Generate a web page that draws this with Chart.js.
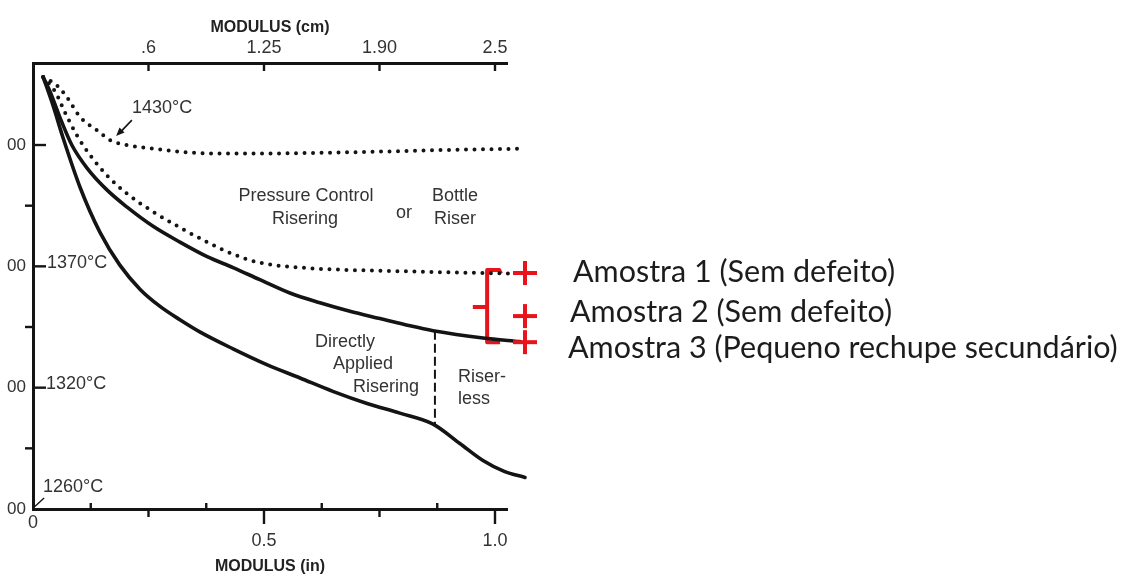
<!DOCTYPE html>
<html>
<head>
<meta charset="utf-8">
<script src="https://cdn.jsdelivr.net/npm/chart.js@4/dist/chart.umd.min.js"></script>
<style>
  html, body { margin: 0; padding: 0; background: #fff; }
  canvas { display: block; }
</style>
</head>
<body>
<canvas id="c" width="1131" height="577"></canvas>
<script>
// ---------- axis ticks ----------
const xTickValues = [0, 0.5, 1.0];
const xTickLabels = ["0", "0.5", "1.0"];
const xInnerTicks = [0.125, 0.375, 0.625, 0.875];
const xOuterTicks = [0.25, 0.75];
const topTickValues = [0.25, 0.5, 0.75, 1.0];
const topTickLabels = [".6", "1.25", "1.90", "2.5"];
const yTickValues = [2300, 2400, 2500, 2600];
const yTickLabels = ["00", "00", "00", "00"];
const yMinorTicks = [2350, 2450, 2550];
const xTitle = "MODULUS (in)";
const topTitle = "MODULUS (cm)";
const tempLabels = ["1430°C", "1370°C", "1320°C", "1260°C"];
const regionLabels = ["Pressure Control", "Risering", "or", "Bottle", "Riser",
                      "Directly", "Applied", "Risering", "Riser-", "less"];

// ---------- curves (x: modulus in, y: temperature °F) ----------
const curve1430X = [0.022, 0.052, 0.074, 0.102, 0.139, 0.167, 0.203, 0.26, 0.333, 0.405, 0.476, 0.686, 0.903, 1.061];
const curve1430Y = [2656, 2649, 2639, 2623, 2612, 2604, 2600, 2597, 2594, 2593, 2593, 2594, 2596, 2597];

const curve1370X = [0.022, 0.048, 0.069, 0.095, 0.123, 0.160, 0.203, 0.260, 0.318, 0.377, 0.433, 0.491, 0.578, 0.794, 1.039];
const curve1370Y = [2656, 2644, 2627, 2608, 2592, 2575, 2560, 2545, 2532, 2520, 2510, 2503, 2499, 2496, 2494];

const pressureX = [0.022, 0.037, 0.058, 0.084, 0.117, 0.160, 0.203, 0.260, 0.318, 0.377, 0.433, 0.491, 0.556, 0.621, 0.686, 0.751, 0.816, 0.866, 0.974, 1.054];
const pressureY = [2656, 2644, 2623, 2600, 2581, 2563, 2549, 2533, 2520, 2508, 2499, 2489, 2478, 2470, 2463, 2457, 2451, 2447, 2441, 2438];

const directX = [0.022, 0.043, 0.065, 0.102, 0.145, 0.188, 0.232, 0.275, 0.318, 0.361, 0.433, 0.506, 0.578, 0.649, 0.723, 0.794, 0.866, 0.924, 0.974, 1.02, 1.065];
const directY = [2656, 2633, 2606, 2565, 2528, 2501, 2481, 2467, 2456, 2446, 2432, 2419, 2408, 2397, 2387, 2379, 2370, 2354, 2340, 2331, 2326];

const dividerX = [0.87, 0.87];
const dividerY = [2447, 2370];

// ---------- samples (red marks) ----------
const sampleLabels = ["Amostra 1 (Sem defeito)", "Amostra 2 (Sem defeito)", "Amostra 3 (Pequeno rechupe secundário)"];
const sampleX = [1.065, 1.065, 1.065];
const sampleY = [2494.5, 2459, 2437.5];
const bracketX = [1.013, 1.009, 0.983, 0.983, 1.011];
const bracketY = [2494, 2497, 2497, 2437.5, 2437.5];
const bracketTipX = [0.952, 0.983];
const bracketTipY = [2466.5, 2466.5];

const pts = (xs, ys) => xs.map((x, i) => ({ x: x, y: ys[i] }));

const INK = '#141414';
const TXT = '#333333';
const RED = '#e8141b';
const SANS = '"Liberation Sans", Arial, sans-serif';

const dotted = (data) => ({
  data, borderColor: INK, borderWidth: 4, borderDash: [0, 8.5], borderCapStyle: 'round',
  pointRadius: 0, cubicInterpolationMode: 'monotone', fill: false, clip: false
});
const solid = (data) => ({
  data, borderColor: INK, borderWidth: 3.6, pointRadius: 0, cubicInterpolationMode: 'monotone',
  fill: false, clip: false, borderCapStyle: 'round'
});

const annotPlugin = {
  id: 'annot',
  afterDraw(chart) {
    const ctx = chart.ctx;
    const xs = chart.scales.x, ys = chart.scales.y;
    const ca = chart.chartArea;
    const X = v => xs.getPixelForValue(v), Y = v => ys.getPixelForValue(v);
    const line = (x1, y1, x2, y2) => { ctx.beginPath(); ctx.moveTo(x1, y1); ctx.lineTo(x2, y2); ctx.stroke(); };
    ctx.save();
    // axis ticks
    ctx.strokeStyle = INK; ctx.lineWidth = 2.4; ctx.lineCap = 'butt';
    yTickValues.slice(1).forEach(v => line(ca.left, Y(v), ca.left + 13, Y(v)));
    yMinorTicks.forEach(v => line(ca.left - 8, Y(v), ca.left, Y(v)));
    xInnerTicks.forEach(v => line(X(v), ca.bottom, X(v), ca.bottom - 6));
    xOuterTicks.forEach(v => line(X(v), ca.bottom, X(v), ca.bottom + 8));
    xTickValues.slice(1).forEach(v => line(X(v), ca.bottom, X(v), ca.bottom + 15));
    topTickValues.forEach(v => line(X(v), ca.top, X(v), ca.top + 8));

    // sample markers (red crosses) placed through the chart scales
    ctx.strokeStyle = RED; ctx.lineWidth = 4;
    sampleX.forEach((sx, i) => {
      const px = X(sx), py = Y(sampleY[i]);
      line(px - 12, py, px + 12, py);
      line(px, py - 12, px, py + 12);
    });

    // arrow to the 1430°C curve
    ctx.strokeStyle = INK;
    ctx.lineWidth = 1.6;
    const ax1 = X(0.214), ay1 = Y(2620.5), ax2 = X(0.18), ay2 = Y(2607.5);
    line(ax1, ay1, ax2 + 4, ay2 - 3.5);
    const ang = Math.atan2(ay2 - ay1, ax2 - ax1);
    ctx.fillStyle = INK;
    ctx.beginPath();
    ctx.moveTo(ax2, ay2);
    ctx.lineTo(ax2 - 9 * Math.cos(ang - 0.4), ay2 - 9 * Math.sin(ang - 0.4));
    ctx.lineTo(ax2 - 9 * Math.cos(ang + 0.4), ay2 - 9 * Math.sin(ang + 0.4));
    ctx.closePath(); ctx.fill();
    // leader for 1260°C
    ctx.lineWidth = 1.4;
    line(X(0.004), Y(2302), X(0.024), Y(2309));

    // text annotations
    ctx.fillStyle = TXT;
    ctx.textBaseline = 'middle';
    ctx.font = '18px ' + SANS;
    const put = (t, x, y, align) => { ctx.textAlign = align; ctx.fillText(t, x, y); };
    put(tempLabels[0], 132, 108, 'left');
    put(tempLabels[1], 47, 263, 'left');
    put(tempLabels[2], 46, 384, 'left');
    put(tempLabels[3], 43, 487, 'left');
    put(regionLabels[0], 306, 196, 'center');
    put(regionLabels[1], 305, 219, 'center');
    put(regionLabels[2], 404, 213, 'center');
    put(regionLabels[3], 455, 196, 'center');
    put(regionLabels[4], 455, 219, 'center');
    put(regionLabels[5], 315, 342, 'left');
    put(regionLabels[6], 333, 364, 'left');
    put(regionLabels[7], 353, 387, 'left');
    put(regionLabels[8], 458, 377, 'left');
    put(regionLabels[9], 458, 399, 'left');

    // sample labels, sized to the reference width
    const fam = 'Lato, "Open Sans", sans-serif';
    ctx.font = '100px ' + fam;
    const w = ctx.measureText(sampleLabels[0]).width;
    const size = 100 * 322 / w;
    ctx.font = size.toFixed(2) + 'px ' + fam;
    ctx.fillStyle = '#1c1c1c';
    put(sampleLabels[0], 573, 272, 'left');
    put(sampleLabels[1], 570, 312, 'left');
    put(sampleLabels[2], 568, 348, 'left');
    ctx.restore();
  }
};

new Chart(document.getElementById('c'), {
  type: 'line',
  data: {
    datasets: [
      dotted(pts(curve1430X, curve1430Y)),
      dotted(pts(curve1370X, curve1370Y)),
      solid(pts(pressureX, pressureY)),
      solid(pts(directX, directY)),
      { data: pts(dividerX, dividerY), borderColor: INK, borderWidth: 2, borderDash: [9, 4],
        pointRadius: 0, tension: 0, clip: false },
      { data: pts(bracketX, bracketY), borderColor: RED, borderWidth: 4, pointRadius: 0,
        tension: 0, clip: false, borderJoinStyle: 'round' },
      { data: pts(bracketTipX, bracketTipY), borderColor: RED, borderWidth: 4, pointRadius: 0,
        tension: 0, clip: false }
    ]
  },
  options: {
    responsive: false,
    animation: false,
    events: [],
    layout: { padding: { left: 0, top: 0, bottom: 0, right: 624 } },
    plugins: { legend: { display: false }, tooltip: { enabled: false } },
    scales: {
      x: {
        type: 'linear', position: 'bottom', min: 0, max: 1.026,
        afterBuildTicks: s => { s.ticks = xTickValues.map(v => ({ value: v })); },
        afterFit: s => { s.height = 68; },
        grid: { display: false, drawTicks: false, tickLength: 0 },
        border: { display: true, color: INK, width: 3 },
        ticks: {
          autoSkip: false, maxRotation: 0, padding: 5, color: TXT,
          font: { family: SANS, size: 18, lineHeight: 1 },
          callback: (v, i) => i === 0 ? xTickLabels[0] : ['', xTickLabels[i]]
        },
        title: { display: true, text: xTitle, color: '#222',
                 font: { family: SANS, size: 16, weight: 'bold', lineHeight: 1.2 },
                 padding: { top: 0, bottom: 1 } }
      },
      x2: {
        type: 'linear', position: 'top', min: 0, max: 1.026,
        afterBuildTicks: s => { s.ticks = topTickValues.map(v => ({ value: v })); },
        afterFit: s => { s.height = 63; },
        grid: { display: false, drawTicks: false, tickLength: 0 },
        border: { display: true, color: INK, width: 3 },
        ticks: {
          autoSkip: false, maxRotation: 0, padding: 6, color: TXT,
          font: { family: SANS, size: 18, lineHeight: 1 },
          callback: (v, i) => topTickLabels[i]
        },
        title: { display: true, text: topTitle, color: '#222',
                 font: { family: SANS, size: 16, weight: 'bold', lineHeight: 1.2 },
                 padding: { top: 18, bottom: 0 } }
      },
      y: {
        type: 'linear', position: 'left', min: 2300, max: 2667.6,
        afterBuildTicks: s => { s.ticks = yTickValues.map(v => ({ value: v })); },
        afterFit: s => { s.width = 33; },
        grid: { display: false, drawTicks: false, tickLength: 0 },
        border: { display: true, color: INK, width: 3 },
        ticks: {
          autoSkip: false, padding: 7, color: TXT,
          font: { family: SANS, size: 17, lineHeight: 1 },
          callback: (v, i) => yTickLabels[i]
        }
      }
    }
  },
  plugins: [annotPlugin]
});
</script>
</body>
</html>
